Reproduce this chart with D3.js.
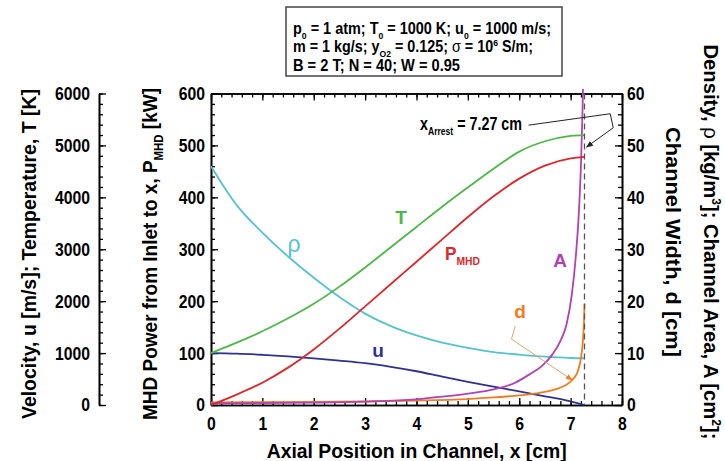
<!DOCTYPE html>
<html>
<head>
<meta charset="utf-8">
<script src="https://cdn.jsdelivr.net/npm/d3@7"></script>
<style>
  body { margin: 0; background: #fff; }
  svg { display: block; font-family: "Liberation Sans", Arial, sans-serif; font-weight: bold; }
</style>
</head>
<body>
<svg id="chart" width="725" height="461"></svg>
<script>
// axial position [cm] for T, P, u, rho
var xPos = [0, 0.5, 1, 1.5, 2, 2.5, 3, 3.5, 4, 4.5, 5, 5.5, 6, 6.5, 7, 7.27];
var temperature = [1000, 1200, 1420, 1670, 1950, 2280, 2650, 3040, 3430, 3820, 4190, 4550, 4880, 5080, 5185, 5200];
var powerMHD = [0, 20, 43, 72, 107, 147, 190, 233, 276, 319, 362, 402, 436, 461, 475, 478];
var velocity = [1000, 990, 967, 938, 900, 855, 805, 735, 650, 545, 445, 352, 262, 168, 70, 0];
var density = [46, 38.5, 33.2, 28.6, 24.5, 20.8, 17.6, 15.2, 13.4, 12.0, 11.0, 10.2, 9.7, 9.3, 9.05, 9.0];

// channel area A [cm^2]
var xArea = [0, 1, 2, 3, 4, 4.5, 5, 5.5, 5.9, 6.2, 6.45, 6.65, 6.8, 6.92, 7.02, 7.1, 7.16, 7.2, 7.23, 7.26];
var area = [0.3, 0.35, 0.45, 0.65, 1.1, 1.6, 2.2, 3.0, 4.2, 5.9, 7.6, 9.8, 12.3, 15.5, 21, 28.5, 37, 46, 56, 70];

// channel width d [cm]
var xWidth = [0, 2, 3, 4, 5, 5.5, 6, 6.4, 6.7, 6.9, 7.05, 7.14, 7.2, 7.24, 7.26, 7.27];
var width = [0.5, 0.6, 0.7, 0.85, 1.15, 1.45, 1.85, 2.35, 3.0, 3.8, 5.0, 6.5, 9.0, 12.5, 16, 19.5];

var xArrest = 7.27;

var xTicks = [0, 1, 2, 3, 4, 5, 6, 7, 8];
var powerTicks = [0, 100, 200, 300, 400, 500, 600];
var utTicks = [0, 1000, 2000, 3000, 4000, 5000, 6000];
var rightTicks = [0, 10, 20, 30, 40, 50, 60];

var colors = {
    T: "#4db848", rho: "#55c3d0", u: "#2e3192",
    P: "#e0262b", A: "#b042b3", d: "#f47b20"
};

var svg = d3.select("#chart");

var x = d3.scaleLinear().domain([0, 8]).range([211, 622]);
var yP = d3.scaleLinear().domain([0, 600]).range([405, 93.5]);
var yUT = d3.scaleLinear().domain([0, 6000]).range([405, 93.5]);
var yR = d3.scaleLinear().domain([0, 60]).range([405, 93.5]);

// squeeze text to look like the narrow bold face of the original
function narrow(sel, k) {
    sel.each(function () {
        var len = this.getComputedTextLength();
        d3.select(this).attr("textLength", len * k).attr("lengthAdjust", "spacingAndGlyphs");
    });
}

function fitTo(sel, px) {
    sel.attr("textLength", px).attr("lengthAdjust", "spacingAndGlyphs");
}

// text with sub / superscripts; parts are [text, kind]
function rich(parent, parts, fs) {
    var t = parent.append("text").attr("font-size", fs);
    parts.forEach(function (p) {
        var kind = p[1] || "";
        var ts = t.append("tspan").text(p[0]);
        if (kind === "sub") ts.attr("font-size", fs * 0.6).attr("baseline-shift", (-fs * 0.28) + "px");
        if (kind === "sup") ts.attr("font-size", fs * 0.6).attr("baseline-shift", (fs * 0.38) + "px");
        if (kind === "sym") ts.attr("font-weight", "normal");
    });
    return t;
}

function styleAxis(g) {
    g.selectAll("path.domain").attr("stroke", "#000").attr("stroke-width", 1.6);
    g.selectAll(".tick line").attr("stroke", "#000").attr("stroke-width", 1.3);
    g.selectAll(".tick text").attr("font-size", 18.5).attr("font-weight", "bold")
        .attr("fill", "#000").attr("font-family", "Liberation Sans, Arial, sans-serif");
    narrow(g.selectAll(".tick text"), 0.85);
}

function minor(lo, hi, step) {
    return d3.range(Math.round((hi - lo) / step) + 1).map(function (i) { return lo + i * step; });
}

var plain = d3.format("d");

// ---- axes ----
var gx = svg.append("g").attr("transform", "translate(0,405)")
    .call(d3.axisBottom(x).tickValues(xTicks).tickFormat(plain).tickSizeInner(-7).tickSizeOuter(0).tickPadding(12));
svg.append("g").attr("transform", "translate(0,405)")
    .call(d3.axisBottom(x).tickValues(minor(0, 8, 0.2)).tickSizeInner(-4).tickSizeOuter(0).tickFormat(""))
    .call(styleAxis);
styleAxis(gx);

svg.append("g").attr("transform", "translate(0,93.5)")
    .call(d3.axisTop(x).tickValues(xTicks).tickSizeInner(-7).tickSizeOuter(0).tickFormat(""))
    .call(styleAxis);
svg.append("g").attr("transform", "translate(0,93.5)")
    .call(d3.axisTop(x).tickValues(minor(0, 8, 0.2)).tickSizeInner(-4).tickSizeOuter(0).tickFormat(""))
    .call(styleAxis);

var gP = svg.append("g").attr("transform", "translate(211,0)")
    .call(d3.axisLeft(yP).tickValues(powerTicks).tickFormat(plain).tickSizeInner(-7).tickSizeOuter(0).tickPadding(6));
svg.append("g").attr("transform", "translate(211,0)")
    .call(d3.axisLeft(yP).tickValues(minor(0, 600, 20)).tickSizeInner(-4).tickSizeOuter(0).tickFormat(""))
    .call(styleAxis);
styleAxis(gP);

var gUT = svg.append("g").attr("transform", "translate(99,0)")
    .call(d3.axisLeft(yUT).tickValues(utTicks).tickFormat(plain).tickSizeInner(-7).tickSizeOuter(0).tickPadding(9));
svg.append("g").attr("transform", "translate(99,0)")
    .call(d3.axisLeft(yUT).tickValues(minor(0, 6000, 200)).tickSizeInner(-4).tickSizeOuter(0).tickFormat(""))
    .call(styleAxis);
styleAxis(gUT);

var gR = svg.append("g").attr("transform", "translate(622,0)")
    .call(d3.axisRight(yR).tickValues(rightTicks).tickFormat(plain).tickSizeInner(-7).tickSizeOuter(0).tickPadding(5));
svg.append("g").attr("transform", "translate(622,0)")
    .call(d3.axisRight(yR).tickValues(minor(0, 60, 2)).tickSizeInner(-4).tickSizeOuter(0).tickFormat(""))
    .call(styleAxis);
styleAxis(gR);

// ---- curves ----
svg.append("clipPath").attr("id", "plotClip")
    .append("rect").attr("x", 211).attr("y", 89).attr("width", 411).attr("height", 317);

var plot = svg.append("g").attr("clip-path", "url(#plotClip)");

function drawCurve(xv, yv, yScale, color) {
    var line = d3.line()
        .x(function (d) { return x(d[0]); })
        .y(function (d) { return yScale(d[1]); })
        .curve(d3.curveMonotoneX);
    plot.append("path")
        .datum(d3.zip(xv, yv))
        .attr("d", line)
        .attr("fill", "none")
        .attr("stroke", color)
        .attr("stroke-width", 1.8);
}

drawCurve(xPos, density, yR, colors.rho);
drawCurve(xPos, velocity, yUT, colors.u);
drawCurve(xWidth, width, yR, colors.d);
drawCurve(xArea, area, yR, colors.A);
drawCurve(xPos, powerMHD, yP, colors.P);
drawCurve(xPos, temperature, yUT, colors.T);

svg.append("line")
    .attr("x1", x(xArrest)).attr("x2", x(xArrest))
    .attr("y1", yP(600)).attr("y2", yP(0))
    .attr("stroke", "#555").attr("stroke-width", 1.3)
    .attr("stroke-dasharray", "6,4");

// ---- curve labels ----
var labels = svg.append("g");
labels.append("text").attr("x", 294).attr("y", 252).attr("text-anchor", "middle")
    .attr("font-size", 23).attr("font-weight", "normal").attr("fill", colors.rho).text("ρ");
labels.append("text").attr("x", 401).attr("y", 223.5).attr("text-anchor", "middle")
    .attr("font-size", 19).attr("fill", colors.T).text("T");
labels.append("text").attr("x", 560).attr("y", 266.7).attr("text-anchor", "middle")
    .attr("font-size", 19).attr("fill", colors.A).text("A");
labels.append("text").attr("x", 378).attr("y", 356.7).attr("text-anchor", "middle")
    .attr("font-size", 19).attr("fill", colors.u).text("u");
labels.append("text").attr("x", 520).attr("y", 318.3).attr("text-anchor", "middle")
    .attr("font-size", 19).attr("fill", colors.d).text("d");
rich(labels, [["P"], ["MHD", "sub"]], 19)
    .attr("x", 445).attr("y", 260).attr("fill", colors.P)
    .call(fitTo, 35);

// ---- annotations ----
var defs = svg.append("defs");
function arrowMarker(id, color) {
    defs.append("marker").attr("id", id)
        .attr("viewBox", "0 0 10 10").attr("refX", 9).attr("refY", 5)
        .attr("markerWidth", 7).attr("markerHeight", 7).attr("orient", "auto")
        .append("path").attr("d", "M0,1 L10,5 L0,9 z").attr("fill", color);
}
arrowMarker("arrowK", "#222");
arrowMarker("arrowO", colors.d);

var lineR = d3.line()
    .x(function (d) { return x(d[0]); })
    .y(function (d) { return yR(d[1]); });

svg.append("path")
    .datum([[6.18, 53.9], [7.77, 56.1], [7.83, 53.4], [7.31, 49.7]])
    .attr("d", lineR).attr("fill", "none")
    .attr("stroke", "#222").attr("stroke-width", 1)
    .attr("marker-end", "url(#arrowK)");

svg.append("path")
    .datum([[5.92, 15.2], [5.85, 12.7], [7.03, 4.8]])
    .attr("d", lineR).attr("fill", "none")
    .attr("stroke", "#e6a36e").attr("stroke-width", 1)
    .attr("marker-end", "url(#arrowO)");

rich(svg, [["x"], ["Arrest", "sub"], [" = 7.27 cm"]], 18)
    .attr("x", 420).attr("y", 130).attr("fill", "#000")
    .call(fitTo, 102);

// ---- parameter box ----
svg.append("rect")
    .attr("x", 286).attr("y", 7).attr("width", 276).attr("height", 69)
    .attr("fill", "#fff").attr("stroke", "#444").attr("stroke-width", 1.5);

var boxLines = [
    { parts: [["p"], ["0", "sub"], [" = 1 atm; T"], ["0", "sub"], [" = 1000 K; u"], ["0", "sub"], [" = 1000 m/s;"]], y: 33.5, w: 258 },
    { parts: [["m = 1 kg/s; y"], ["O2", "sub"], [" = 0.125; "], ["σ", "sym"], [" = 10"], ["6", "sup"], [" S/m;"]], y: 52, w: 240 },
    { parts: [["B = 2 T; N = 40; W = 0.95"]], y: 70.5, w: 167 }
];
boxLines.forEach(function (l) {
    rich(svg, l.parts, 16.5).attr("x", 293).attr("y", l.y).attr("fill", "#000").call(fitTo, l.w);
});

// ---- axis titles ----
svg.append("text")
    .attr("transform", "translate(416.7,458)")
    .attr("text-anchor", "middle").attr("font-size", 21)
    .text("Axial Position in Channel, x [cm]")
    .call(fitTo, 300);

svg.append("text")
    .attr("transform", "translate(36,254) rotate(-90)")
    .attr("text-anchor", "middle").attr("font-size", 21)
    .text("Velocity, u [m/s]; Temperature, T [K]")
    .call(fitTo, 330);

rich(svg, [["MHD Power from Inlet to x, P"], ["MHD", "sub"], [" [kW]"]], 21)
    .attr("transform", "translate(157,254) rotate(-90)")
    .attr("text-anchor", "middle")
    .call(fitTo, 332);

rich(svg, [["Density, "], ["ρ", "sym"], [" [kg/m"], ["3", "sup"], ["]; Channel Area, A [cm"], ["2", "sup"], ["];"]], 21)
    .attr("transform", "translate(704,242) rotate(90)")
    .attr("text-anchor", "middle")
    .call(fitTo, 395);

svg.append("text")
    .attr("transform", "translate(666,242) rotate(90)")
    .attr("text-anchor", "middle").attr("font-size", 21)
    .text("Channel Width, d [cm]")
    .call(fitTo, 230);
</script>
</body>
</html>
